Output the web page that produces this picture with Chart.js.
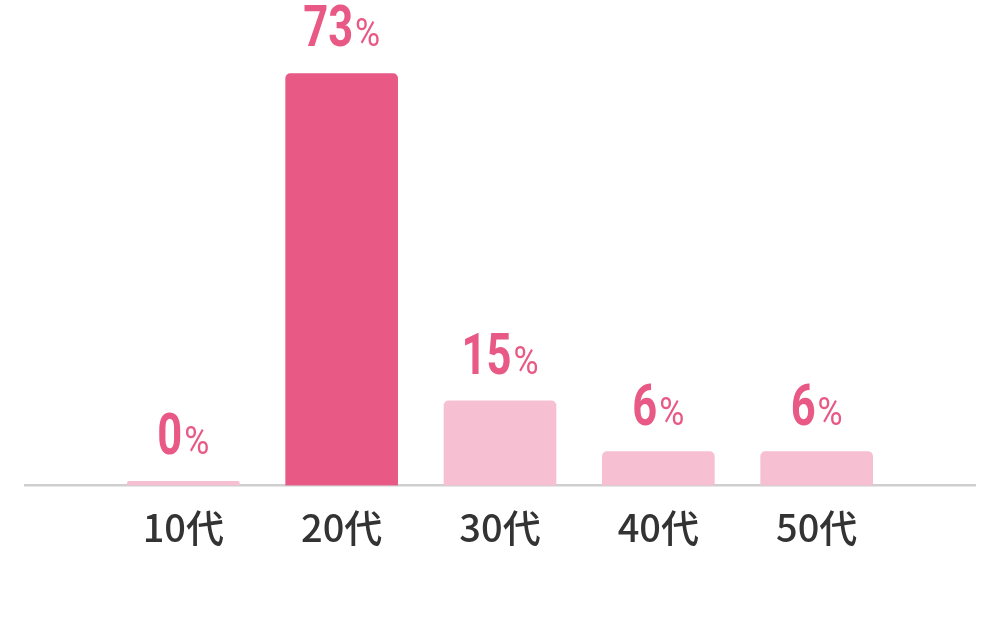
<!DOCTYPE html>
<html lang="ja">
<head>
<meta charset="utf-8">
<script src="https://cdn.jsdelivr.net/npm/chart.js@4.4.0/dist/chart.umd.min.js"></script>
<style>
  html, body { margin: 0; padding: 0; background: #fff; }
  #wrap { width: 1000px; height: 621px; position: relative; }
</style>
</head>
<body>
<div id="wrap"><canvas id="chart"></canvas></div>
<script>
// age groups and share of respondents (%)
const categories = ['10代', '20代', '30代', '40代', '50代'];
const shares = [0, 73, 15, 6, 6];
const yMax = 80;

const pinkDark = '#e85986';
const pinkLight = '#f6c0d2';
const peak = Math.max(...shares);

// blank slot on each side so the axis line runs past the outer bars
const labels = ['', ...categories, ''];
const data = [null, ...shares, null];
const colors = data.map(v => v === peak ? pinkDark : pinkLight);

const numFont = 'Roboto, "DejaVu Sans", sans-serif';
const squeeze = 0.75; // fake a condensed face

const valueLabels = {
  id: 'valueLabels',
  afterDatasetsDraw(chart) {
    const ctx = chart.ctx;
    const meta = chart.getDatasetMeta(0);
    ctx.save();
    ctx.fillStyle = pinkDark;
    ctx.textBaseline = 'alphabetic';
    ctx.textAlign = 'left';
    meta.data.forEach((bar, i) => {
      const v = data[i];
      if (v === null || v === undefined) return;
      const num = String(v);
      ctx.font = 'bold 58px ' + numFont;
      const wNum = ctx.measureText(num).width * squeeze;
      ctx.font = 'normal 38px ' + numFont;
      const wPct = ctx.measureText('%').width * 0.9;
      const gap = 2;
      const total = wNum + gap + wPct;
      const x0 = bar.x - total / 2;
      const y = bar.y - 27;

      ctx.save();
      ctx.translate(x0, y);
      ctx.scale(squeeze, 1);
      ctx.font = 'bold 58px ' + numFont;
      ctx.fillText(num, 0, 0);
      ctx.restore();

      ctx.save();
      ctx.translate(x0 + wNum + gap, y);
      ctx.scale(0.9, 1);
      ctx.font = 'normal 38px ' + numFont;
      ctx.fillText('%', 0, 0);
      ctx.restore();
    });
    ctx.restore();
  }
};

new Chart(document.getElementById('chart'), {
  type: 'bar',
  data: {
    labels: labels,
    datasets: [{
      data: data,
      backgroundColor: colors,
      barThickness: 112,
      minBarLength: 4,
      borderRadius: { topLeft: 5, topRight: 5, bottomLeft: 0, bottomRight: 0 },
      borderSkipped: 'bottom'
    }]
  },
  options: {
    responsive: true,
    maintainAspectRatio: false,
    animation: false,
    layout: { padding: { top: 34, bottom: 52, left: 25, right: 25 } },
    plugins: {
      legend: { display: false },
      tooltip: { enabled: false }
    },
    scales: {
      x: {
        offset: false,
        grid: { display: false, drawTicks: false },
        border: { display: true, color: '#cfcfcf', width: 2.5 },
        ticks: {
          padding: 19,
          color: '#333333',
          font: { family: '"Noto Sans CJK JP", "Noto Sans", sans-serif', size: 38, weight: 500, lineHeight: 1.2 },
          maxRotation: 0,
          autoSkip: false
        }
      },
      y: {
        display: false,
        min: 0,
        max: yMax
      }
    }
  },
  plugins: [valueLabels]
});
</script>
</body>
</html>
